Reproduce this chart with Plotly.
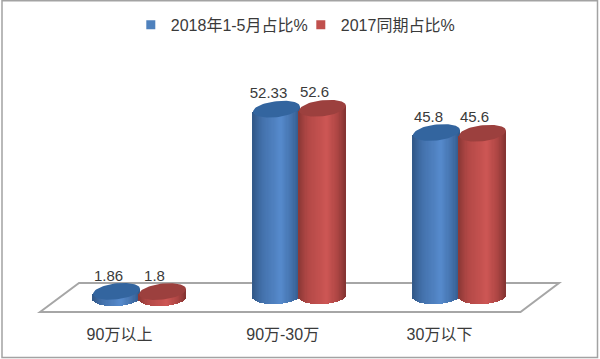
import numpy as np
import plotly.graph_objects as go

# --- data ---
categories = ["90万以上", "90万-30万", "30万以下"]
series_names = ["2018年1-5月占比%", "2017同期占比%"]
values_2018 = [1.86, 52.33, 45.8]
values_2017 = [1.8, 52.6, 45.6]

# --- styles / geometry (axis units: 1 x unit = 160 px, 1 y unit = 3.57 px) ---
W, H = 600, 359
PX_X = 160.0
PX_Y = 3.57
MB = 41
Y0 = 296.0
X1 = 139.5
x_range = [1 - X1 / PX_X, 1 + (W - X1) / PX_X]
y_range = [(Y0 - (H - MB)) / PX_Y, Y0 / PX_Y]
half_w = 23.5 / PX_X
half_h = 8.0 / PX_Y
top_tilt = 2.5 / PX_Y
bot_tilt = 1.0 / PX_Y
offset = 23.0 / PX_X
floor_drop = [-2.0 / PX_Y, 0, 0]
shades = {
    0: dict(stops=[(0, (50, 88, 136)), (0.2, (66, 112, 170)), (0.6, (86, 138, 204)), (0.85, (66, 112, 170)), (1, (50, 88, 136))],
            top="#33659f", name=series_names[0], legend="#4f81bd"),
    1: dict(stops=[(0, (140, 56, 54)), (0.2, (178, 72, 70)), (0.6, (205, 86, 84)), (0.85, (170, 68, 66)), (1, (132, 52, 50))],
            top="#9c403e", name=series_names[1], legend="#c0504d"),
}
FONT = "Liberation Sans, Noto Sans CJK SC, sans-serif"
TXT = "#3a3a3a"


def shade(stops, f):
    for (a, ca), (b, cb) in zip(stops, stops[1:]):
        if f <= b:
            t = (f - a) / (b - a)
            c = [round(ca[i] + (cb[i] - ca[i]) * t) for i in range(3)]
            return f"rgb({c[0]},{c[1]},{c[2]})"
    return "rgb(0,0,0)"


fig = go.Figure()
all_vals = [values_2018, values_2017]
n = 40
for s, vals in enumerate(all_vals):
    st = shades[s]
    xs, bases, heights, cols = [], [], [], []
    for g, v in enumerate(vals):
        cx = g + 1 + (offset if s else -offset)
        for i in range(n):
            u = -1 + (2 * i + 1) / n
            xs.append(cx + u * half_w)
            low = floor_drop[g] - half_h * np.sqrt(1 - u * u) + bot_tilt * u
            up = floor_drop[g] + v + top_tilt * u
            bases.append(low)
            heights.append(up - low)
            cols.append(shade(st["stops"], (u + 1) / 2))
    fig.add_trace(go.Bar(x=xs, y=heights, base=bases, width=2 * half_w / n * 1.25,
                         marker=dict(color=cols, line_width=0), showlegend=False, hoverinfo="skip"))

for s, vals in enumerate(all_vals):
    st = shades[s]
    t = np.linspace(0, 2 * np.pi, 73)
    ex, ey = [], []
    for g, v in enumerate(vals):
        cx = g + 1 + (offset if s else -offset)
        ex += list(cx + half_w * np.cos(t)) + [None]
        ey += list(floor_drop[g] + v + half_h * np.sin(t) + top_tilt * np.cos(t)) + [None]
    fig.add_trace(go.Scatter(x=ex, y=ey, mode="lines", fill="toself", fillcolor=st["top"],
                             line=dict(width=0, color=st["top"]), showlegend=False, hoverinfo="skip"))

label_dx = -8.0 / PX_X
label_lift = 7.0 / PX_Y
for s, vals in enumerate(all_vals):
    st = shades[s]
    fig.add_trace(go.Scatter(
        x=[g + 1 + (offset if s else -offset) + label_dx for g in range(3)],
        y=[floor_drop[g] + v + label_lift for g, v in enumerate(vals)],
        mode="text", text=[str(v) for v in vals], textposition="top center",
        textfont=dict(size=15, color=TXT, family=FONT), showlegend=False, hoverinfo="skip"))

for s in range(2):
    st = shades[s]
    fig.add_trace(go.Scatter(x=[None], y=[None], mode="markers", name=st["name"],
                             marker=dict(symbol="square", size=9, color=st["legend"])))

# paper coordinates relate to the plot area, which ends MB px above the page bottom
def px(x):
    return x / W
def py(y):
    return 1 - y / (H - MB)

floor = [(40, 312), (79, 283), (559, 283), (520.5, 312)]
path = "M " + " L ".join(f"{px(a):.4f},{py(b):.4f}" for a, b in floor) + " Z"

fig.update_layout(
    width=W, height=H, autosize=False,
    margin=dict(l=0, r=0, t=0, b=MB),
    paper_bgcolor="white", plot_bgcolor="rgba(0,0,0,0)",
    barmode="overlay", bargap=0,
    font=dict(family=FONT, size=16, color=TXT),
    xaxis=dict(range=x_range, tickvals=[0.875, 1.895, 2.875], ticktext=categories,
               showgrid=False, zeroline=False, showline=False, ticks="outside", ticklen=2,
               tickcolor="rgba(0,0,0,0)", tickfont=dict(size=16, family=FONT, color=TXT), fixedrange=True),
    yaxis=dict(range=y_range, visible=False, showgrid=False, zeroline=False, fixedrange=True),
    legend=dict(orientation="h", x=0.218, y=0.975, xanchor="left", yanchor="top",
                bgcolor="rgba(0,0,0,0)", font=dict(size=16, family=FONT, color=TXT),
                entrywidth=125, entrywidthmode="pixels", itemclick=False, itemdoubleclick=False),
    shapes=[
        dict(type="path", xref="paper", yref="paper", path=path, layer="below",
             line=dict(color="#a6a6a6", width=2), fillcolor="white"),
        dict(type="rect", xref="paper", yref="paper", x0=px(2), x1=px(597.5), y0=py(357.5), y1=py(0.8),
             layer="below", line=dict(color="#a3a3a3", width=1.5), fillcolor="rgba(0,0,0,0)"),
    ],
)
fig.write_html("out.html", config={"displayModeBar": False},
               post_script="document.body.style.margin='0';")
